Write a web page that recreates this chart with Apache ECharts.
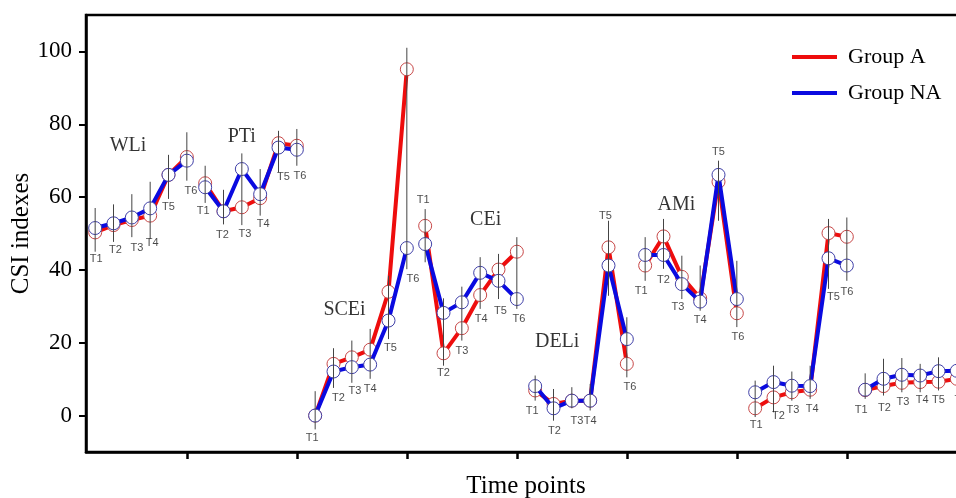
<!DOCTYPE html>
<html>
<head>
<meta charset="utf-8">
<script src="https://cdn.jsdelivr.net/npm/echarts@6/dist/echarts.min.js"></script>
<style>
html,body{margin:0;padding:0;background:#fff;}
#chart{width:956px;height:498px;}
</style>
</head>
<body>
<div id="chart"></div>
<script>
// ---- data ----
const groupNames = ['WLi', 'PTi', 'SCEi', 'CEi', 'DELi', 'AMi', '', ''];
const timePoints = ['T1', 'T2', 'T3', 'T4', 'T5', 'T6'];
const yTicks = [0, 20, 40, 60, 80, 100];

const groupA = [
  50.3, 52.3, 53.7, 54.9, 66.1, 71.0,
  63.8, 56.1, 57.2, 59.7, 74.8, 74.1,
  0.0, 14.2, 16.0, 18.1, 34.0, 95.1,
  52.1, 17.1, 24.0, 33.1, 40.1, 45.0,
  6.9, 3.2, 4.1, 4.1, 46.2, 14.2,
  41.2, 49.2, 38.1, 32.2, 64.2, 28.1,
  2.0, 5.0, 6.4, 7.1, 50.1, 49.1,
  7.0, 8.1, 9.0, 9.2, 9.3, 10.1
];
const groupNA = [
  51.5, 52.8, 54.4, 56.9, 66.1, 70.0,
  62.7, 56.1, 67.7, 60.8, 73.6, 73.0,
  0.0, 12.1, 13.3, 14.0, 26.1, 46.0,
  47.1, 28.2, 31.1, 39.2, 37.0, 32.0,
  8.1, 2.0, 4.1, 4.1, 41.2, 21.0,
  44.1, 44.1, 36.1, 31.3, 66.1, 32.0,
  6.4, 9.2, 8.2, 8.1, 43.2, 41.2,
  7.1, 10.1, 11.2, 11.0, 12.2, 12.3
];
const errHigh = [
  57.0, 58.0, 60.8, 64.2, 71.6, 77.8,
  68.6, 62.0, 72.0, 67.7, 78.2, 78.7,
  6.7, 18.5, 20.6, 23.8, 38.4, 101.0,
  56.7, 32.2, 35.4, 43.5, 44.4, 49.0,
  11.0, 7.3, 7.8, 8.7, 53.5, 27.0,
  49.0, 54.0, 43.9, 41.2, 70.0, 42.5,
  9.6, 13.7, 12.1, 13.7, 54.0, 54.4,
  11.6, 15.6, 15.8, 14.2, 16.0, 16.5
];
const errLow = [
  45.0, 47.7, 49.0, 48.5, 59.5, 64.5,
  58.4, 52.5, 52.3, 54.9, 66.8, 68.6,
  -3.8, 7.6, 9.0, 10.1, 21.0, 40.2,
  42.1, 13.7, 20.6, 29.3, 32.0, 29.3,
  4.1, -1.4, 2.0, 1.4, 32.9, 10.5,
  37.0, 40.3, 32.0, 28.8, 53.5, 24.3,
  -0.4, 0.9, 4.1, 4.6, 34.8, 37.0,
  4.6, 5.5, 6.4, 6.4, 6.9, 7.0
];

// ---- layout (label placement, not data) ----
const labelAbove = [18, 28, 34];
const labelNudge = [
  [1,7],[2,8],[5,11],[2,4],[0,8],[4,10],
  [-2,8],[-1,11],[3,9],[3,8],[5,5],[3,10],
  [-3,9],[5,10],[3,8],[0,10],[2,9],[6,10],
  [-2,-9],[0,7],[0,10],[1,10],[2,12],[2,10],
  [-3,10],[1,10],[5,13],[0,10],[-3,-5],[3,10],
  [-4,10],[0,11],[-4,8],[0,9],[0,-9],[1,10],
  [1,8],[5,4],[1,9],[2,10],[5,8],[0,11],
  [-4,11],[1,12],[1,10],[2,8],[0,10],[4,10]
];
const groupNamePos = [[1.79,74],[8.0,76.5],[13.6,29],[21.3,53.7],[25.2,20.2],[31.7,57.8]];

const RED = '#ee0d0d', BLUE = '#0a0ae0';
const SERIF = '"Liberation Serif", "Times New Roman", serif';

const series = [];
const nGroups = groupNames.length;
for (let g = 0; g < nGroups; g++) {
  const idx = [0,1,2,3,4,5].map(k => g * 6 + k);
  series.push({
    name: 'Group A', type: 'line', z: 2,
    data: idx.map(i => [i, groupA[i]]),
    symbol: 'circle', symbolSize: 13,
    itemStyle: { color: '#fff', borderColor: '#c84848', borderWidth: 1 },
    lineStyle: { color: RED, width: 4 },
    emphasis: { disabled: true }
  });
}
for (let g = 0; g < nGroups; g++) {
  const idx = [0,1,2,3,4,5].map(k => g * 6 + k);
  series.push({
    name: 'Group NA', type: 'line', z: 3,
    data: idx.map(i => [i, groupNA[i]]),
    symbol: 'circle', symbolSize: 13,
    itemStyle: { color: '#fff', borderColor: '#4040a8', borderWidth: 1 },
    lineStyle: { color: BLUE, width: 4 },
    emphasis: { disabled: true }
  });
}
// error bars
series.push({
  type: 'custom', z: 5, silent: true,
  data: errLow.map((lo, i) => [i, lo, errHigh[i]]),
  encode: { x: 0, y: [1, 2] },
  renderItem: function (params, api) {
    const p1 = api.coord([api.value(0), api.value(1)]);
    const p2 = api.coord([api.value(0), api.value(2)]);
    return { type: 'line', shape: { x1: p1[0], y1: p1[1], x2: p2[0], y2: p2[1] },
             style: { stroke: '#444', lineWidth: 1 } };
  }
});
// T labels
series.push({
  type: 'scatter', z: 6, silent: true,
  symbolSize: 1, itemStyle: { color: 'rgba(0,0,0,0)' },
  data: errLow.map((lo, i) => ({
    value: [i, labelAbove.indexOf(i) >= 0 ? errHigh[i] : lo],
    label: { offset: labelNudge[i] }
  })),
  label: {
    show: true, position: 'inside',
    formatter: p => timePoints[p.dataIndex % 6],
    fontFamily: '"Liberation Sans", Arial, sans-serif', fontSize: 11, color: '#1a1a1a',
    textBorderWidth: 0
  }
});
// group name labels
series.push({
  type: 'scatter', z: 6, silent: true,
  symbolSize: 1, itemStyle: { color: 'rgba(0,0,0,0)' },
  data: groupNamePos.map(p => p),
  label: {
    show: true, position: 'inside',
    formatter: p => groupNames[p.dataIndex],
    fontFamily: SERIF, fontSize: 20, color: '#000', textBorderWidth: 0
  }
});

const chart = echarts.init(document.getElementById('chart'));
chart.setOption({
  animation: false,
  backgroundColor: '#fff',
  grid: { left: 86, right: -10, top: 15, bottom: 46, show: true, borderColor: '#000', borderWidth: 2.5,
          outerBoundsMode: 'none', containLabel: false },
  legend: {
    orient: 'vertical', left: 787, top: 41,
    icon: 'rect', itemWidth: 45, itemHeight: 4, itemGap: 14,
    textStyle: { fontFamily: SERIF, fontSize: 22, color: '#000', lineHeight: 22, padding: [0, 0, 0, 6] },
    data: [
      { name: 'Group A', itemStyle: { color: RED, borderWidth: 0 } },
      { name: 'Group NA', itemStyle: { color: BLUE, borderWidth: 0 } }
    ]
  },
  xAxis: {
    type: 'value', min: -0.5, max: 47.5,
    name: 'Time points', nameLocation: 'middle', nameGap: 22, nameMoveOverlap: false,
    nameTextStyle: { fontFamily: SERIF, fontSize: 25, color: '#000' },
    axisLine: { show: true, onZero: false, lineStyle: { color: '#000', width: 2.5 } },
    axisTick: { show: true, inside: false, length: 7, lineStyle: { color: '#000', width: 2.5 },
                customValues: [5, 11, 17, 23, 29, 35, 41] },
    axisLabel: { show: false },
    splitLine: { show: false }
  },
  yAxis: {
    type: 'value', min: -10, max: 110,
    name: 'CSI indexes', nameLocation: 'middle', nameGap: 52, nameMoveOverlap: false,
    nameTextStyle: { fontFamily: SERIF, fontSize: 25, color: '#000' },
    axisLine: { show: true, onZero: false, lineStyle: { color: '#000', width: 2.5 } },
    axisTick: { show: true, inside: false, length: 7, lineStyle: { color: '#000', width: 2 },
                customValues: yTicks },
    axisLabel: { customValues: yTicks, fontFamily: SERIF, fontSize: 23, color: '#000', margin: 14 },
    splitLine: { show: false }
  },
  series: series
});
</script>
</body>
</html>
